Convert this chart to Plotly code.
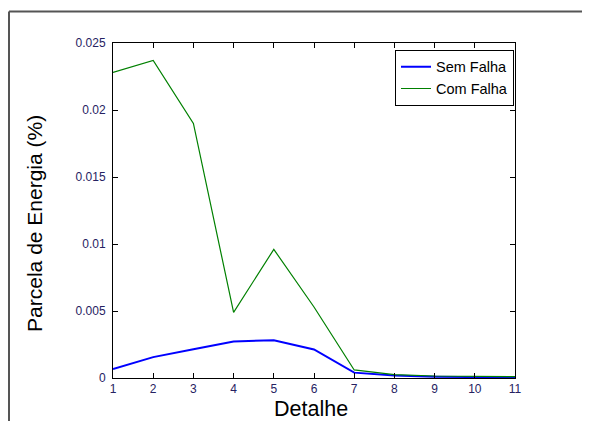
import plotly.graph_objects as go

detalhe = [1, 2, 3, 4, 5, 6, 7, 8, 9, 10, 11]
sem_falha = [0.00067, 0.00156, 0.00215, 0.00272, 0.00282, 0.00213, 0.0004, 0.00018, 0.0001, 0.00006, 0.00004]
com_falha = [0.0228, 0.0237, 0.0190, 0.0049, 0.0096, 0.0053, 0.0006, 0.00025, 0.00015, 0.00012, 0.0001]
y_ticks = [0, 0.005, 0.01, 0.015, 0.02, 0.025]
y_ticktext = ["0", "0.005", "0.01", "0.015", "0.02", "0.025"]

fig = go.Figure()
fig.add_trace(go.Scatter(x=detalhe, y=sem_falha, mode="lines", name="Sem Falha",
                         line=dict(color="#0000FF", width=2)))
fig.add_trace(go.Scatter(x=detalhe, y=com_falha, mode="lines", name="Com Falha",
                         line=dict(color="#008000", width=1.2)))

tickfont = dict(family="Liberation Sans, Arial", size=12, color="#262262")
fig.update_layout(
    width=582, height=413,
    margin=dict(l=105, r=75, t=35, b=43),
    paper_bgcolor="white", plot_bgcolor="white",
    showlegend=True,
    legend=dict(x=0.9975, y=0.98, xanchor="right", yanchor="top",
                bordercolor="black", borderwidth=1, bgcolor="white",
                font=dict(family="Liberation Sans, Arial", size=14.5, color="black"),
                tracegroupgap=0, itemwidth=30),
    xaxis=dict(range=[1, 11], tickvals=detalhe, ticks="inside", ticklen=5,
               showline=True, linecolor="black", linewidth=1, mirror="ticks",
               showgrid=False, zeroline=False, tickfont=tickfont, tickcolor="black"),
    yaxis=dict(range=[0, 0.025], tickvals=y_ticks, ticktext=y_ticktext, ticks="inside", ticklen=5,
               showline=True, linecolor="black", linewidth=1, mirror="ticks",
               showgrid=False, zeroline=False, tickfont=tickfont, tickcolor="black",
               ticklabelstandoff=4),
    annotations=[
        dict(text="Detalhe", xref="paper", yref="paper", x=0.4925, y=-0.093,
             xanchor="center", yanchor="middle", showarrow=False,
             font=dict(family="Liberation Sans, Arial", size=21.5, color="black")),
        dict(text="Parcela de Energia (%)", xref="paper", yref="paper", x=-0.194, y=0.46,
             xanchor="center", yanchor="middle", textangle=-90, showarrow=False,
             font=dict(family="Liberation Sans, Arial", size=21, color="black")),
    ],
    shapes=[
        dict(type="line", xref="paper", yref="paper", x0=-0.2587, x1=1.19, y0=1.094, y1=1.094,
             line=dict(color="#555555", width=2)),
        dict(type="line", xref="paper", yref="paper", x0=-0.2587, x1=-0.2587, y0=1.094, y1=-0.15,
             line=dict(color="#555555", width=2)),
    ],
)
fig.write_html("out.html")
